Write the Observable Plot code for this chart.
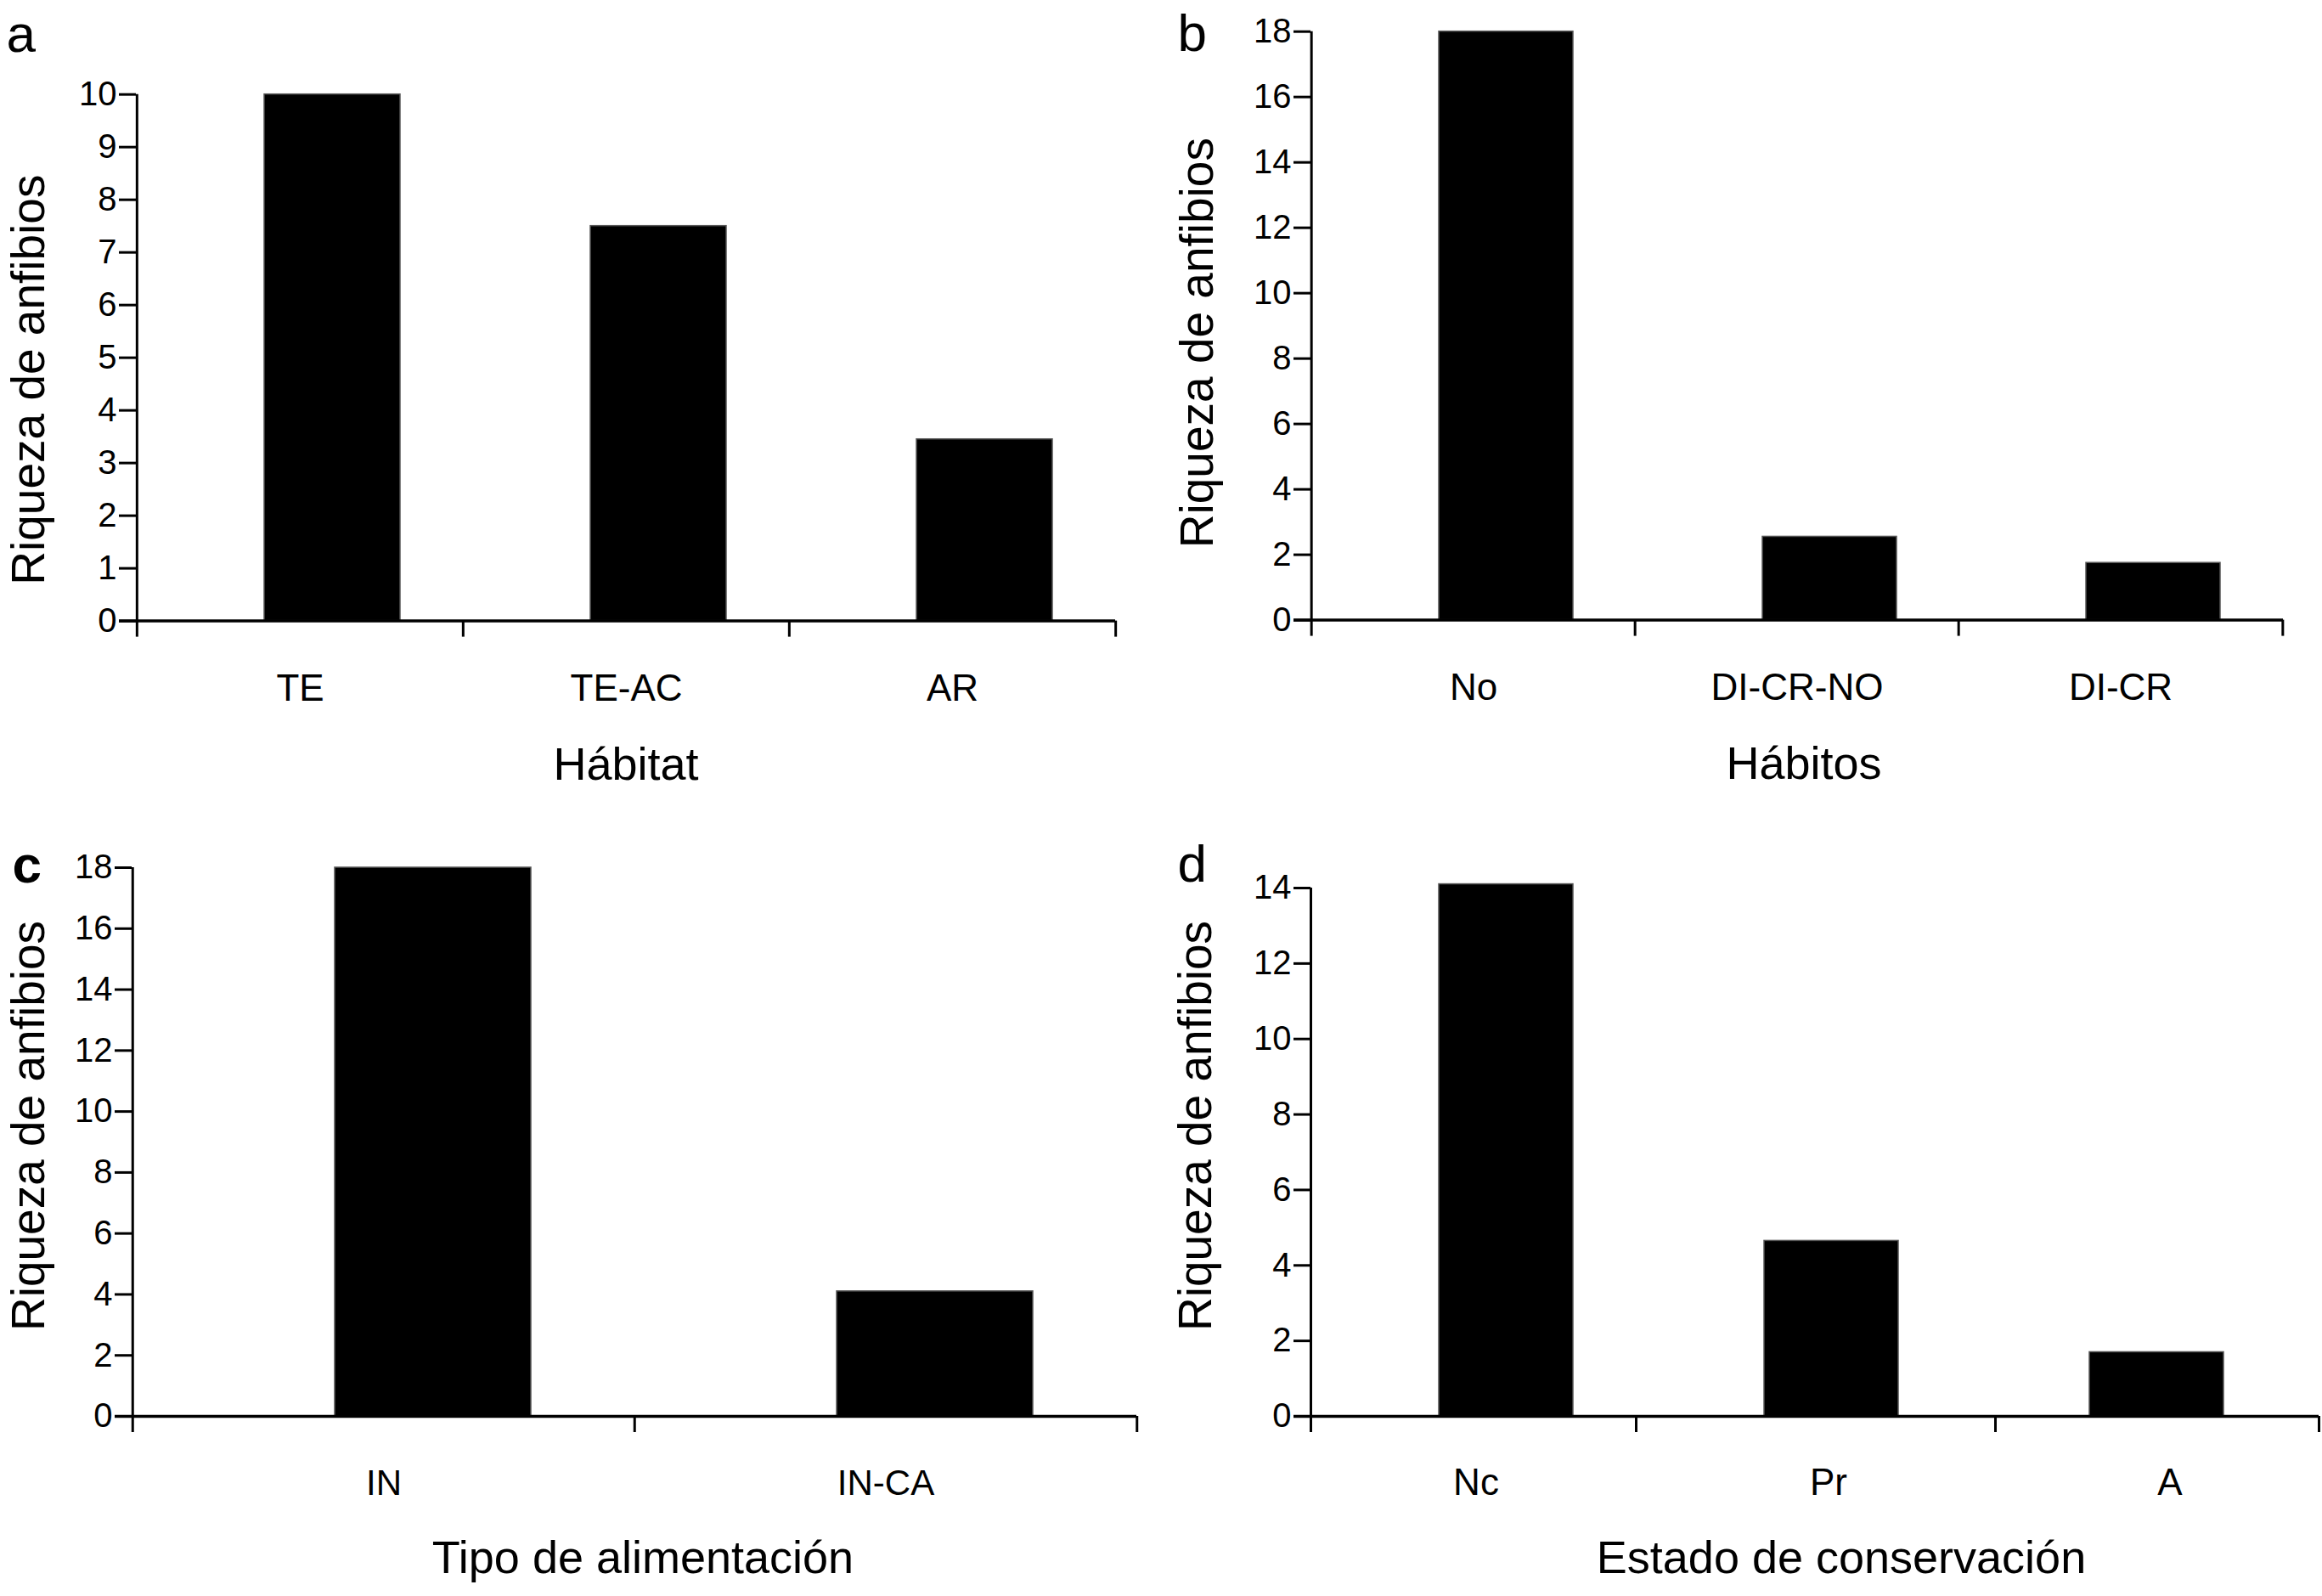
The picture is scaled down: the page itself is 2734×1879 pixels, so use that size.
<!DOCTYPE html>
<html>
<head>
<meta charset="utf-8">
<script src="https://cdn.jsdelivr.net/npm/d3@7"></script>
<script src="https://cdn.jsdelivr.net/npm/@observablehq/plot@0.6"></script>
<style>
  html, body { margin: 0; padding: 0; background: #fff; }
  #root { position: relative; width: 2734px; height: 1879px; background: #fff; overflow: hidden; }
  #root svg { position: absolute; }
</style>
</head>
<body>
<div id="root"></div>
<script>
// ---- Data ----
const habitatCats = ["TE", "TE-AC", "AR"];
const habitatVals = [10, 7.5, 3.45];
const habitatTicks = [0, 1, 2, 3, 4, 5, 6, 7, 8, 9, 10];

const habitosCats = ["No", "DI-CR-NO", "DI-CR"];
const habitosVals = [18, 2.55, 1.75];
const habitosTicks = [0, 2, 4, 6, 8, 10, 12, 14, 16, 18];

const alimCats = ["IN", "IN-CA"];
const alimVals = [18, 4.1];
const alimTicks = [0, 2, 4, 6, 8, 10, 12, 14, 16, 18];

const consCats = ["Nc", "Pr", "A"];
const consVals = [14.1, 4.65, 1.7];
const consTicks = [0, 2, 4, 6, 8, 10, 12, 14];

const yLabel = "Riqueza de anfibios";
const FONT = "'Liberation Sans', Arial, Helvetica, sans-serif";

function panel(cfg) {
  const {cats, vals, ticks, letter, xlabel, left, top, width, height,
         ml, mr, mt, mb, insetL, insetR, tickShift, labelShift, axisExtendRight = 0,
         catPad = 63, catFont = 44, titleDx = 0, titleDy = 149,
         yDx, yDy, letterDx, letterDy, letterWeight = "normal"} = cfg;
  const data = cats.map((c, i) => ({cat: c, v: vals[i]}));
  const yMax = ticks[ticks.length - 1];
  const bw = (width - ml - mr) / cats.length;
  const shifts = tickShift || cats.map(() => 0).concat([0]);
  const lshifts = labelShift || cats.map(() => 0);

  const boundaryTicks = cats.map((c, i) =>
    Plot.ruleX([c], {x: d => d, y1: 0, y2: 0, insetBottom: -19, dx: -bw / 2 + shifts[i], stroke: "black", strokeWidth: 3})
  );
  boundaryTicks.push(
    Plot.ruleX([cats[cats.length - 1]], {x: d => d, y1: 0, y2: 0, insetBottom: -19, dx: bw / 2 + shifts[cats.length], stroke: "black", strokeWidth: 3})
  );

  const catLabels = cats.map((c, i) =>
    Plot.axisX({ticks: [c], tickSize: 0, tickPadding: catPad, fontSize: catFont, label: null, fontFamily: FONT, dx: lshifts[i]})
  );

  const svg = Plot.plot({
    width, height,
    marginLeft: ml, marginRight: mr, marginTop: mt, marginBottom: mb,
    style: {fontFamily: FONT, background: "white", color: "black", overflow: "visible"},
    x: {type: "band", domain: cats, padding: 0, axis: null},
    y: {domain: [0, yMax], axis: null},
    marks: [
      Plot.barY(data, {x: "cat", y: "v", fill: "black", stroke: "#555", strokeWidth: 1.5, insetLeft: insetL, insetRight: insetR}),
      Plot.ruleY([0], {stroke: "black", strokeWidth: 3.5, insetLeft: -20, insetRight: -axisExtendRight}),
      Plot.ruleX([cats[0]], {x: d => d, y1: 0, y2: yMax, dx: -bw / 2, stroke: "black", strokeWidth: 3}),
      ...boundaryTicks,
      Plot.axisY({ticks, tickSize: 20, tickPadding: 3, fontSize: 40, strokeWidth: 3, label: null, fontFamily: FONT}),
      ...catLabels,
      Plot.text([xlabel], {text: d => d, frameAnchor: "bottom", lineAnchor: "top", dx: titleDx, dy: titleDy, fontSize: 54, fontFamily: FONT, fill: "black"}),
      Plot.text([yLabel], {text: d => d, frameAnchor: "left", rotate: -90, lineAnchor: "top", textAnchor: "middle", dx: yDx, dy: yDy, fontSize: 55, fontFamily: FONT, fill: "black"}),
      Plot.text([letter], {text: d => d, frameAnchor: "top-left", textAnchor: "start", lineAnchor: "bottom", dx: letterDx, dy: letterDy, fontSize: 62, fontWeight: letterWeight, fontFamily: FONT, fill: "black"})
    ]
  });
  svg.style.left = left + "px";
  svg.style.top = top + "px";
  return svg;
}

const root = document.getElementById("root");

root.appendChild(panel({
  cats: habitatCats, vals: habitatVals, ticks: habitatTicks, letter: "a", xlabel: "Hábitat",
  left: 0, top: 0, width: 1367, height: 940,
  ml: 160, mr: 54, mt: 110.7, mb: 209.4, insetL: 150, insetR: 74,
  yDx: -148, yDy: 26, letterDx: -153, letterDy: -50
}));

root.appendChild(panel({
  cats: habitosCats, vals: habitosVals, ticks: habitosTicks, letter: "b", xlabel: "Hábitos",
  left: 1367, top: 0, width: 1367, height: 940,
  ml: 176, mr: 46, mt: 36.7, mb: 210.4, insetL: 150, insetR: 73,
  titleDx: 8,
  yDx: -155, yDy: 20, letterDx: -157, letterDy: 23
}));

root.appendChild(panel({
  cats: alimCats, vals: alimVals, ticks: alimTicks, letter: "c", xlabel: "Tipo de alimentación",
  left: 0, top: 940, width: 1367, height: 939,
  ml: 155, mr: 29, mt: 81, mb: 212, insetL: 238, insetR: 122,
  catFont: 42, titleDx: 10, titleDy: 146,
  yDx: -143, yDy: -19, letterDx: -141, letterDy: 17, letterWeight: "600"
}));

root.appendChild(panel({
  cats: consCats, vals: consVals, ticks: consTicks, letter: "d", xlabel: "Estado de conservación",
  left: 1367, top: 940, width: 1367, height: 939,
  ml: 176, mr: 42, mt: 105, mb: 212, insetL: 151, insetR: 74,
  tickShift: [0, 0, 40, 38], labelShift: [3, 35, 54], axisExtendRight: 38,
  catPad: 61, titleDx: 50, titleDy: 146,
  yDx: -157, yDy: -31, letterDx: -157, letterDy: -8
}));
</script>
</body>
</html>
